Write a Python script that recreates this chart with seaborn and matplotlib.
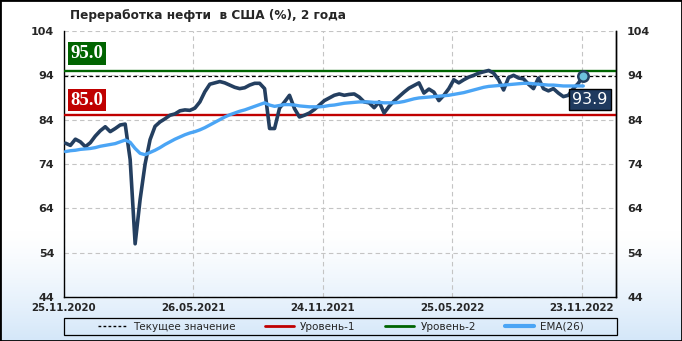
import numpy as np
import pandas as pd
import matplotlib
matplotlib.use("Agg")
import matplotlib.pyplot as plt
import matplotlib.transforms as mtransforms
from matplotlib.patches import Rectangle
from matplotlib.lines import Line2D
import seaborn as sns

# ---------------- data ----------------
title = "Переработка нефти  в США (%), 2 года"
start_date = "2020-11-27"
values = [
    78.7, 78.2, 79.6, 79.0, 77.9, 78.8, 80.3, 81.5, 82.4, 81.3,
    82.0, 82.8, 83.0, 75.0, 56.0, 66.0, 74.0, 79.5, 82.5, 83.5,
    84.2, 85.0, 85.3, 86.0, 86.2, 86.1, 86.6, 88.0, 90.3, 92.0,
    92.3, 92.6, 92.3, 91.8, 91.3, 91.0, 91.2, 91.8, 92.2, 92.2,
    91.0, 82.0, 82.0, 86.6, 88.0, 89.5, 86.5, 84.6, 85.0, 85.5,
    86.3, 87.3, 88.3, 88.9, 89.5, 89.8, 89.5, 89.7, 89.8, 89.1,
    88.0, 87.8, 86.7, 88.0, 85.5, 87.0, 88.2, 89.2, 90.2, 91.1,
    91.7, 92.3, 90.0, 90.9, 90.2, 88.3, 89.5, 91.0, 93.0, 92.3,
    93.0, 93.6, 94.0, 94.5, 94.8, 95.1, 94.5, 93.0, 90.7, 93.5,
    94.0, 93.4, 93.2, 92.0, 91.0, 93.4, 91.0, 90.5, 91.0, 90.0,
    89.2, 89.5, 91.0, 92.2, 93.9,
]
ema26 = [
    76.8, 77.0, 77.1, 77.3, 77.4, 77.5, 77.7, 78.0, 78.2, 78.4,
    78.6, 79.0, 79.4, 78.9, 77.5, 76.4, 76.1, 76.6, 77.1, 77.7,
    78.4, 79.0, 79.6, 80.1, 80.6, 81.0, 81.3, 81.7, 82.2, 82.8,
    83.4, 84.0, 84.6, 85.1, 85.5, 85.9, 86.2, 86.6, 87.0, 87.4,
    87.8, 87.3, 87.0, 87.2, 87.4, 87.4, 87.3, 87.1, 87.0, 86.9,
    86.9, 86.9, 87.0, 87.2, 87.3, 87.5, 87.7, 87.8, 87.9, 88.0,
    88.0, 88.0, 87.9, 87.9, 87.8, 87.8, 87.8, 87.9, 88.1, 88.4,
    88.7, 88.9, 89.0, 89.1, 89.2, 89.3, 89.4, 89.5, 89.7, 89.9,
    90.1, 90.4, 90.7, 91.0, 91.3, 91.5, 91.6, 91.7, 91.8, 91.9,
    92.0, 92.1, 92.2, 92.2, 92.1, 92.0, 91.9, 91.8, 91.8, 91.7,
    91.6, 91.6, 91.6, 91.6, 91.6,
]
level1 = 85.0
level2 = 95.0
current = 93.9
yticks = [44, 54, 64, 74, 84, 94, 104]
xtick_dates = ["2020-11-25", "2021-05-26", "2021-11-24", "2022-05-25", "2022-11-23"]
xtick_labels = ["25.11.2020", "26.05.2021", "24.11.2021", "25.05.2022", "23.11.2022"]
legend_labels = ["Текущее значение", "Уровень-1", "Уровень-2", "EMA(26)"]

dates = pd.date_range(start_date, periods=len(values), freq="7D")
df = pd.DataFrame({"date": dates, "value": values, "ema": ema26})

# ---------------- style ----------------
sns.set_style("white")
plt.rcParams["font.family"] = ["DejaVu Sans"]

DARK = "#243f60"
BLUE = "#4ba5f5"
RED = "#c00000"
GREEN = "#006400"
W, H = 682, 341

fig = plt.figure(figsize=(W / 100, H / 100), dpi=100)

# background gradient
bg = fig.add_axes([0, 0, 1, 1], zorder=-10)
yy = np.linspace(0, 1, 400)  # top -> bottom
t = np.clip((yy - 0.68) / 0.32, 0, 1) ** 1.3
top_c = np.array([1.0, 1.0, 1.0])
bot_c = np.array([212, 231, 249]) / 255
grad = top_c[None, :] * (1 - t[:, None]) + bot_c[None, :] * t[:, None]
bg.imshow(grad[:, None, :], extent=[0, 1, 0, 1], aspect="auto")
bg.set_axis_off()

ax = fig.add_axes([64 / W, (H - 297) / H, 552 / W, 266 / H])
ax.patch.set_alpha(0)

# level lines
ax.axhline(level2, color=GREEN, lw=1.7, zorder=3)
ax.axhline(level1, color=RED, lw=1.7, zorder=3)
ax.axhline(current, color="black", lw=0.9, ls=(0, (3, 2)), zorder=3)

sns.lineplot(data=df, x="date", y="value", ax=ax, color=DARK, lw=2.6, zorder=5)
sns.lineplot(data=df, x="date", y="ema", ax=ax, color=BLUE, lw=2.4, zorder=6)
ax.plot(df["date"].iloc[-1], df["value"].iloc[-1], "o", ms=7.5,
        mfc="#6cc2de", mec=DARK, mew=1.8, zorder=8)

ax.set_ylim(yticks[0], yticks[-1])
xmin = pd.Timestamp(xtick_dates[0])
ax.set_xlim(xmin, xmin + pd.Timedelta(days=776))
ax.set_yticks(yticks)
ax.set_yticklabels([str(v) for v in yticks], fontsize=8, fontweight="bold")
ax.set_xticks(pd.to_datetime(xtick_dates))
ax.set_xticklabels(xtick_labels, fontsize=7.4, fontweight="bold")
ax.tick_params(axis="both", length=0)
ax.tick_params(axis="y", pad=7)
ax.tick_params(axis="x", pad=4)
ax.set_xlabel("")
ax.set_ylabel("")
ax.grid(True, color="#c4c4c4", ls=(0, (4, 3)), lw=0.8)
ax.set_axisbelow(True)
for s in ["left", "right", "bottom"]:
    ax.spines[s].set_color("black")
    ax.spines[s].set_linewidth(1.0)
ax.spines["top"].set_visible(False)

ax2 = ax.twinx()
ax2.patch.set_alpha(0)
ax2.set_ylim(yticks[0], yticks[-1])
ax2.set_yticks(yticks)
ax2.set_yticklabels([str(v) for v in yticks], fontsize=8, fontweight="bold")
ax2.tick_params(axis="y", length=0, pad=8)
for s in ["left", "top", "bottom"]:
    ax2.spines[s].set_visible(False)
ax2.spines["right"].set_color("black")
ax2.spines["right"].set_linewidth(1.0)

# level value boxes
trans = mtransforms.blended_transform_factory(ax.transAxes, ax.transData)
ax.annotate(f"{level2:.1f}", xy=(0.0115, level2), xycoords=trans,
            xytext=(0, 12.6), textcoords="offset points", ha="left", va="center",
            fontsize=13.5, fontweight="bold", color="white", family="Liberation Serif",
            bbox=dict(boxstyle="square,pad=0.14", fc=GREEN, ec="none"), zorder=9)
ax.annotate(f"{level1:.1f}", xy=(0.0115, level1), xycoords=trans,
            xytext=(0, 10.8), textcoords="offset points", ha="left", va="center",
            fontsize=13.5, fontweight="bold", color="white", family="Liberation Serif",
            bbox=dict(boxstyle="square,pad=0.14", fc=RED, ec="none"), zorder=9)
ax.annotate(f"{current:.1f}", xy=(df["date"].iloc[-1], current),
            xytext=(4.8, -17.3), textcoords="offset points", ha="center", va="center",
            fontsize=11.5, color="white",
            bbox=dict(boxstyle="square,pad=0.2", fc="#1f3a5f", ec="black", lw=1), zorder=9)

# title
fig.text(70 / W, 1 - 15 / H, title, fontsize=8.7, fontweight="bold", ha="left", va="center")

# legend
handles = [
    Line2D([], [], color="black", lw=1.0, ls=(0, (2, 1.6))),
    Line2D([], [], color=RED, lw=2.0),
    Line2D([], [], color=GREEN, lw=2.0),
    Line2D([], [], color=BLUE, lw=3.0),
]
fig.legend(handles, legend_labels, loc="center", bbox_to_anchor=(341 / W, 1 - 326.5 / H),
           ncol=4, frameon=False, fontsize=7.5, handlelength=2.8, handletextpad=0.6,
           columnspacing=2.8, borderpad=0.1)
fig.patches.append(Rectangle((64 / W, (H - 335) / H), 553 / W, 17 / H,
                             transform=fig.transFigure, fill=False, ec="black", lw=0.9))
fig.patches.append(Rectangle((0, 0), 1, 1, transform=fig.transFigure,
                             fill=False, ec="black", lw=2))

fig.savefig("out.png", dpi=100)
